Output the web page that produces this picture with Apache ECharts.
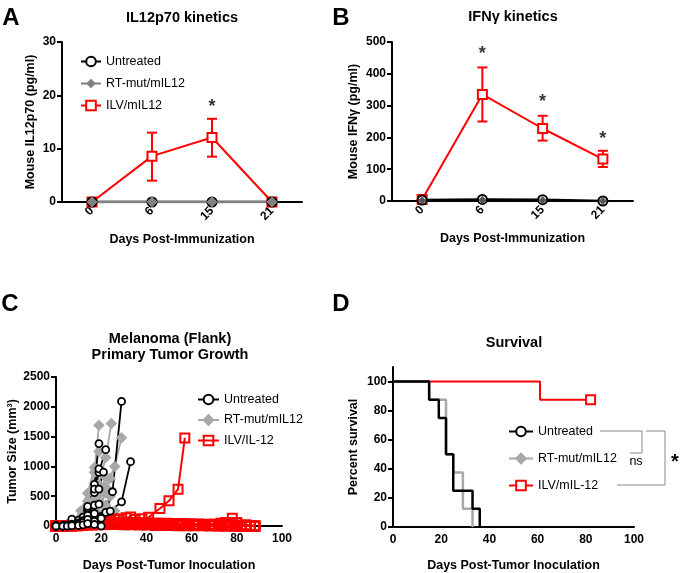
<!DOCTYPE html>
<html>
<head>
<meta charset="utf-8">
<script src="https://cdn.jsdelivr.net/npm/echarts@6/dist/echarts.min.js"></script>
<style>
  html, body { margin: 0; padding: 0; background: #fff; }
  #chart { width: 680px; height: 573px; }
</style>
</head>
<body>
<div id="chart"></div>
<script>
// --- Panel A / B: cytokine kinetics (category x axis) ---
const kineticDays = ['0', '6', '15', '21'];

const il12Untreated = [0, 0, 0, 0];
const il12RtMut = [0, 0, 0, 0];
const il12Ilv = [0, 8.6, 12.1, 0];
const il12IlvLow = [0, 4.0, 8.5, 0];
const il12IlvHigh = [0, 13.0, 15.6, 0];
const il12Stars = [[2, 18.6]];

const ifnUntreated = [3, 5, 4, 0];
const ifnRtMut = [2, 3, 2, 0];
const ifnIlv = [5, 335, 228, 132];
const ifnIlvLow = [5, 250, 190, 107];
const ifnIlvHigh = [5, 420, 268, 158];
const ifnStars = [[1, 475], [2, 324], [3, 208]];

// --- Panel C: individual tumour growth, [day, mm3] per mouse ---
const untreatedMice = [
  [[0, 0], [3, 0], [5, 5], [7, 20], [10, 60], [12, 120], [14, 260], [17, 700], [19, 1383]],
  [[0, 0], [3, 0], [5, 10], [7, 40], [10, 80], [12, 150], [14, 300], [17, 560], [19, 900], [22, 1280]],
  [[0, 0], [3, 0], [5, 0], [7, 10], [10, 25], [12, 40], [14, 70], [17, 110], [20, 160], [22, 230], [25, 575], [29, 2090]],
  [[0, 0], [3, 0], [7, 5], [10, 15], [14, 40], [17, 80], [20, 130], [24, 250], [29, 405], [33, 1080]],
  [[0, 0], [3, 5], [7, 115], [10, 100], [12, 150], [14, 330], [17, 620], [19, 960]],
  [[0, 0], [3, 0], [5, 10], [7, 30], [10, 50], [12, 90], [14, 180], [17, 350], [19, 620], [21, 905]],
  [[0, 0], [3, 0], [5, 5], [7, 15], [10, 35], [12, 60], [14, 110], [17, 210], [19, 367]],
  [[0, 0], [3, 0], [5, 0], [7, 5], [10, 10], [12, 20], [14, 40], [17, 25], [20, 0]]
];
const rtMutMice = [
  [[0, 0], [3, 0], [5, 10], [7, 30], [10, 90], [12, 200], [14, 420], [17, 900], [19, 1690]],
  [[0, 0], [3, 0], [5, 5], [7, 20], [10, 50], [12, 100], [14, 200], [17, 450], [19, 700], [22, 1150], [24.5, 1720]],
  [[0, 0], [3, 0], [5, 5], [7, 15], [10, 30], [12, 60], [14, 120], [17, 260], [19, 420], [22, 650], [26, 1000], [29, 1480]],
  [[0, 0], [3, 0], [5, 10], [7, 50], [11, 255], [14, 550], [17, 980], [19, 1250]],
  [[0, 0], [3, 0], [7, 10], [10, 40], [12, 80], [14, 160], [17, 330], [19, 520], [22, 820]],
  [[0, 0], [3, 0], [7, 10], [10, 25], [12, 50], [14, 90], [17, 180], [20, 380], [22, 560], [24, 800]],
  [[0, 0], [3, 0], [7, 5], [10, 15], [14, 45], [17, 110], [19, 200], [22, 350], [24, 500]],
  [[0, 0], [3, 0], [7, 5], [10, 10], [14, 25], [17, 60], [21, 100], [24, 150], [26, 250]]
];
const ilvGrower = [[0, 0], [3, 0], [7, 15], [10, 30], [14, 60], [17, 70], [21, 90], [24, 100], [26, 120], [28, 110],
  [31, 140], [33, 150], [35, 110], [38, 120], [41, 145], [46, 295], [50, 422], [54, 617], [57, 1478]];
const ilvLateBump = [[0, 0], [3, 0], [7, 5], [10, 15], [14, 30], [17, 45], [21, 55], [24, 60], [28, 60], [31, 55],
  [35, 50], [38, 45], [41, 40], [45, 40], [49, 35], [52, 35], [56, 30], [59, 30], [63, 25], [66, 25], [70, 30],
  [73, 45], [75, 60], [78, 128], [80, 60], [84, 20], [88, 0]];
const ilvDaysA = [0, 3, 7, 10, 14, 17, 21, 24, 28, 31, 35, 38, 41, 45, 49, 52, 56, 59, 63, 66, 70, 73, 77, 80, 84, 88];
const ilvDaysB = [0, 2, 5, 9, 12, 16, 19, 23, 26, 30, 33, 37, 40, 44, 47, 51, 54, 58, 61, 65, 68, 72, 75, 79, 82, 86];
const ilvMiceA = [
  [0, 0, 10, 20, 40, 55, 60, 65, 60, 55, 55, 50, 50, 45, 45, 40, 40, 35, 35, 30, 30, 25, 20, 15, 10, 0],
  [0, 0, 5, 10, 25, 35, 45, 50, 50, 45, 40, 40, 35, 35, 30, 30, 25, 25, 20, 20, 15, 15, 10, 10, 5, 0],
  [0, 0, 0, 5, 15, 25, 35, 40, 45, 40, 35, 30, 30, 25, 25, 20, 20, 15, 15, 10, 10, 5, 5, 5, 0, 0]
];
const ilvMiceB = [
  [0, 0, 5, 15, 35, 50, 60, 70, 65, 60, 55, 50, 45, 45, 40, 35, 35, 30, 30, 25, 20, 20, 15, 10, 5, 0],
  [0, 0, 0, 5, 10, 15, 20, 25, 25, 20, 20, 15, 15, 10, 10, 10, 5, 5, 5, 5, 0, 0, 0, 0, 0, 0],
  [0, 0, 5, 10, 20, 30, 40, 45, 40, 35, 30, 30, 25, 25, 20, 20, 15, 15, 10, 10, 10, 5, 5, 0, 0, 0]
];

// --- Panel D: Kaplan-Meier survival, [day, percent] ---
const kmUntreated = [[0, 100], [15, 87.5], [19, 75], [22, 50], [25, 25], [33, 12.5], [36, 0]];
const kmRtMut = [[0, 100], [15, 87.5], [22, 50], [25, 37.5], [29, 12.5], [33, 0]];
const kmIlv = [[0, 100], [61, 87.5], [82, 87.5]];

const FONT = '"Liberation Sans", Arial, sans-serif';
const RED = '#ff0000';
const GRAY_A = '#808080';
const GRAY_C = '#a8a8a8';

const tickLabel = { color: '#000', fontSize: 12, fontWeight: 'bold', fontFamily: FONT };
const nameStyle = { color: '#000', fontSize: 12.5, fontWeight: 'bold', fontFamily: FONT };
const axisLine = { show: true, lineStyle: { color: '#000', width: 2 } };
const yTick = { show: true, length: 5, lineStyle: { color: '#000', width: 2 } };

function catX(grid, name) {
  return {
    gridIndex: grid, type: 'category', data: kineticDays, boundaryGap: true,
    axisLine, axisTick: { show: false },
    axisLabel: Object.assign({ rotate: 45, margin: 7 }, tickLabel),
    name, nameLocation: 'middle', nameGap: 31, nameTextStyle: nameStyle
  };
}
function valX(grid, name, gap) {
  return {
    gridIndex: grid, type: 'value', min: 0, max: 100, interval: 20,
    axisLine, axisTick: { show: false }, splitLine: { show: false },
    axisLabel: Object.assign({ margin: 7 }, tickLabel),
    name, nameLocation: 'middle', nameGap: gap, nameTextStyle: nameStyle
  };
}
function valY(grid, max, interval, name, gap, extra) {
  return Object.assign({
    gridIndex: grid, type: 'value', min: 0, max, interval,
    axisLine, axisTick: yTick, splitLine: { show: false },
    axisLabel: Object.assign({ margin: 6, formatter: v => String(v) }, tickLabel),
    name, nameLocation: 'middle', nameGap: gap, nameTextStyle: nameStyle
  }, extra || {});
}

function errorBars(grid, low, high, color) {
  const data = low.map((l, i) => [i, l, high[i]]).filter(d => d[2] > d[1]);
  return {
    type: 'custom', xAxisIndex: grid, yAxisIndex: grid, data, z: 3, silent: true,
    renderItem(params, api) {
      const top = api.coord([api.value(0), api.value(2)]);
      const bot = api.coord([api.value(0), api.value(1)]);
      const w = 5;
      const st = { stroke: color, lineWidth: 2 };
      return {
        type: 'group', children: [
          { type: 'line', shape: { x1: top[0], y1: top[1], x2: bot[0], y2: bot[1] }, style: st },
          { type: 'line', shape: { x1: top[0] - w, y1: top[1], x2: top[0] + w, y2: top[1] }, style: st },
          { type: 'line', shape: { x1: bot[0] - w, y1: bot[1], x2: bot[0] + w, y2: bot[1] }, style: st }
        ]
      };
    }
  };
}

function stars(grid, data) {
  return {
    type: 'scatter', xAxisIndex: grid, yAxisIndex: grid, data, symbolSize: 1, silent: true, z: 5,
    itemStyle: { color: 'transparent' },
    label: { show: true, formatter: '*', position: 'inside', offset: [0, 4], color: '#000', fontSize: 18, fontWeight: 'bold', fontFamily: FONT }
  };
}

function kinetic(grid, name, data, color, symbol, size, width) {
  return {
    type: 'line', name, xAxisIndex: grid, yAxisIndex: grid, data,
    symbol, symbolSize: size, showSymbol: true,
    lineStyle: { color, width }, itemStyle: { color, borderColor: color, borderWidth: 2 },
    z: 4
  };
}

function miceSeries(name, mice, color, symbol, size, fill, width) {
  return mice.map(m => ({
    type: 'line', name, xAxisIndex: 2, yAxisIndex: 2, data: m,
    symbol, symbolSize: size, showSymbol: true,
    lineStyle: { color, width: width || 1.8 },
    itemStyle: { color: fill, borderColor: color, borderWidth: width || 1.8 }
  }));
}

const ilvMice = [ilvGrower, ilvLateBump]
  .concat(ilvMiceA.map(v => v.map((y, i) => [ilvDaysA[i], y])))
  .concat(ilvMiceB.map(v => v.map((y, i) => [ilvDaysB[i], y])));

function km(name, data, color, symbol, width, fill) {
  return {
    type: 'line', name, xAxisIndex: 3, yAxisIndex: 3, step: 'end', data,
    symbol, symbolSize: 9, showSymbol: false,
    lineStyle: { color, width }, itemStyle: { color: fill, borderColor: color, borderWidth: 2 }
  };
}

const legendText = { color: '#000', fontSize: 12.5, fontFamily: FONT };
const stripTag = n => n.split('|')[0];

function txt(x, y, text, font, align) {
  return {
    type: 'text', x, y, silent: true,
    style: { text, font, fill: '#000', align: align || 'center', verticalAlign: 'middle', textAlign: align || 'center', textVerticalAlign: 'middle' }
  };
}
function seg(x1, y1, x2, y2) {
  return { type: 'line', silent: true, shape: { x1, y1, x2, y2 }, style: { stroke: '#888', lineWidth: 1 } };
}

const chart = echarts.init(document.getElementById('chart'), null, { renderer: 'canvas' });

chart.setOption({
  backgroundColor: '#fff',
  animation: false,
  textStyle: { fontFamily: FONT },
  grid: [
    { left: 62, top: 42, width: 240, height: 160 },
    { left: 392, top: 42, width: 241, height: 159 },
    { left: 56, top: 377, width: 226, height: 150 },
    { left: 393, top: 367, width: 241, height: 160 }
  ],
  xAxis: [
    catX(0, 'Days Post-Immunization'),
    catX(1, 'Days Post-Immunization'),
    valX(2, 'Days Post-Tumor Inoculation', 33),
    valX(3, 'Days Post-Tumor Inoculation', 32)
  ],
  yAxis: [
    valY(0, 30, 10, 'Mouse IL12p70 (pg/ml)', 25),
    valY(1, 500, 100, 'Mouse IFNγ (pg/ml)', 32),
    valY(2, 2500, 500, 'Tumor Size (mm³)', 34),
    valY(3, 110, 20, 'Percent survival', 33, {
      axisTick: Object.assign({ customValues: [0, 20, 40, 60, 80, 100] }, yTick),
      axisLabel: Object.assign({ margin: 6, customValues: [0, 20, 40, 60, 80, 100] }, tickLabel)
    })
  ],
  legend: [
    {
      data: ['Untreated|A', 'RT-mut/mIL12|A', 'ILV/mIL12|A'], formatter: stripTag,
      orient: 'vertical', left: 80, top: 55, padding: 0, itemWidth: 20, itemHeight: 12, itemGap: 9,
      selectedMode: false, textStyle: legendText
    },
    {
      data: ['Untreated|C', 'RT-mut/mIL12|C', 'ILV/IL-12|C'], formatter: stripTag,
      orient: 'vertical', left: 197, top: 393, padding: 0, itemWidth: 21, itemHeight: 12, itemGap: 7.5,
      selectedMode: false, textStyle: legendText
    },
    {
      data: ['Untreated|D', 'RT-mut/mIL12|D', 'ILV/mIL-12|D'], formatter: stripTag,
      orient: 'vertical', left: 508, top: 425, padding: 0, itemWidth: 24, itemHeight: 12, itemGap: 14,
      selectedMode: false, textStyle: legendText
    }
  ],
  series: [
    // A
    errorBars(0, il12IlvLow, il12IlvHigh, RED),
    kinetic(0, 'ILV/mIL12|A', il12Ilv, RED, 'emptyRect', 9, 2),
    kinetic(0, 'Untreated|A', il12Untreated, '#000', 'emptyCircle', 9, 2.5),
    Object.assign(kinetic(0, 'RT-mut/mIL12|A', il12RtMut, GRAY_A, 'diamond', 10, 2.5), { itemStyle: { color: GRAY_A, borderColor: GRAY_A } }),
    stars(0, il12Stars),
    // B
    errorBars(1, ifnIlvLow, ifnIlvHigh, RED),
    kinetic(1, 'ILV|B', ifnIlv, RED, 'emptyRect', 9, 2),
    kinetic(1, 'Untreated|B', ifnUntreated, '#000', 'emptyCircle', 9, 2.5),
    Object.assign(kinetic(1, 'RT-mut|B', ifnRtMut, GRAY_A, 'diamond', 7, 0), { lineStyle: { width: 0 }, itemStyle: { color: '#555', borderColor: '#555' } }),
    stars(1, ifnStars),
    // C
    ...miceSeries('RT-mut/mIL12|C', rtMutMice, GRAY_C, 'diamond', 9, GRAY_C),
    ...miceSeries('ILV/IL-12|C', ilvMice, RED, 'rect', 9, 'transparent', 2),
    ...miceSeries('Untreated|C', untreatedMice, '#000', 'circle', 7, '#fff'),
    // D
    Object.assign(km('ILV/mIL-12|D', kmIlv.map((p, i) => i === kmIlv.length - 1 ? p : { value: p, symbol: 'none' }), RED, 'rect', 2, '#fff'), { showSymbol: true }),
    km('RT-mut/mIL12|D', kmRtMut, GRAY_C, 'diamond', 2.5, GRAY_C),
    km('Untreated|D', kmUntreated, '#000', 'circle', 2.5, '#fff')
  ],
  graphic: [
    txt(11, 18, 'A', 'bold 24px ' + FONT),
    txt(341, 18, 'B', 'bold 24px ' + FONT),
    txt(10, 304, 'C', 'bold 24px ' + FONT),
    txt(341, 304, 'D', 'bold 24px ' + FONT),
    txt(182, 18, 'IL12p70 kinetics', 'bold 14.5px ' + FONT),
    txt(513, 17, 'IFNγ kinetics', 'bold 14.5px ' + FONT),
    txt(170, 339, 'Melanoma (Flank)', 'bold 14.5px ' + FONT),
    txt(170, 355, 'Primary Tumor Growth', 'bold 14.5px ' + FONT),
    txt(514, 343, 'Survival', 'bold 14.5px ' + FONT),
    // comparison brackets in D
    seg(600, 431, 642, 431), seg(642, 431, 642, 453), seg(630, 453, 642, 453),
    txt(636, 462, 'ns', '12.5px ' + FONT),
    seg(646, 431, 665, 431), seg(665, 431, 665, 485), seg(617, 485, 665, 485),
    txt(675, 462, '*', 'bold 20px ' + FONT)
  ]
});
</script>
</body>
</html>
